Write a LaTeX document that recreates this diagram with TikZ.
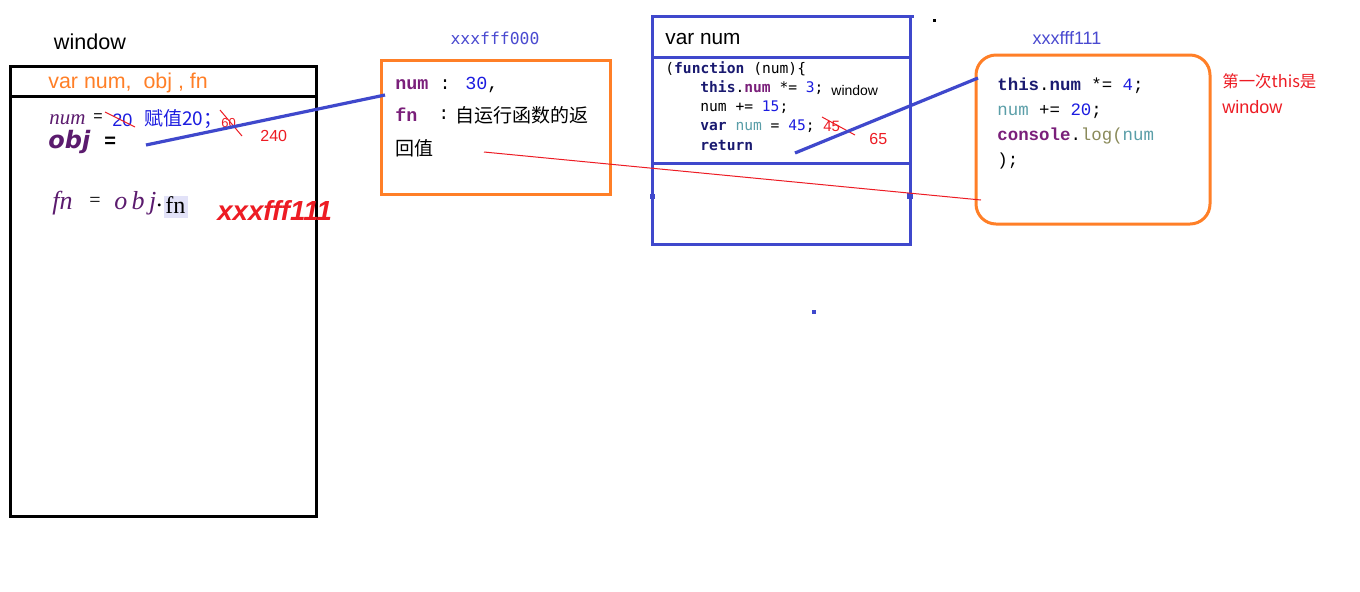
\documentclass[tikz,border=0pt]{standalone}
\usepackage{fontspec}
\setmainfont{Liberation Sans}
\newfontfamily\cjk{Noto Sans CJK SC}
\newfontfamily\lmono{Liberation Mono}
\newfontfamily\dmono{DejaVu Sans Mono}
\newfontfamily\lserif{Liberation Serif}
\newfontfamily\dvs{DejaVu Sans}
\definecolor{porange}{HTML}{FF7F27}
\definecolor{pblue}{HTML}{3F48CC}
\definecolor{pred}{HTML}{ED1C24}
\definecolor{ppurple}{HTML}{5B1B6E}
\definecolor{cnavy}{HTML}{1A1A70}
\definecolor{cpurp}{HTML}{7A1F7A}
\definecolor{cblue}{HTML}{1C1CE0}
\definecolor{cteal}{HTML}{5A9EA8}
\definecolor{colive}{HTML}{8A8A5A}
\definecolor{addr}{HTML}{4A4AD0}
\definecolor{hl}{HTML}{E2E2F8}
\tikzset{
  x=0.5pt,y=-0.5pt,
  txt/.style={inner sep=0pt,anchor=west},
  boxline/.style={line width=1.5pt},
  thinred/.style={pred,line width=0.5pt},
  thickblue/.style={pblue,line width=1.6pt},
}
\begin{document}
\begin{tikzpicture}
\useasboundingbox[fill=white] (0,0) rectangle (1360,591);
% window box
\draw[boxline,black] (10,66) rectangle (316,516);
\draw[boxline,black] (10,96) -- (316,96);
\node[txt,anchor=center,font=\fontsize{10.8}{12}\selectfont] (winlbl) at (90,42) {window};
\node[txt,text=porange,font=\fontsize{10.7}{12}\selectfont] (vars) at (48,83) {var num,\ \ obj , fn};
\node[txt,text=ppurple,font=\lserif\itshape\fontsize{10.5}{12}\selectfont] (numv) at (49,120) {num};
\node[txt,font=\fontsize{8}{10}\selectfont] (eq1) at (93,118) {=};
\node[txt,text=cblue,font=\fontsize{9}{10}\selectfont] (twenty) at (112,120) {20};
\draw[thinred] (105,112) -- (135,127);
\node[txt,text=cblue,font=\cjk\fontsize{9.5}{11}\selectfont] (fuzhi) at (144,119) {赋值20；};
\node[txt,text=pred,font=\fontsize{6.5}{8}\selectfont] (sixty) at (221,123) {60};
\draw[thinred] (220,110) -- (242,136);
\node[txt,text=pred,font=\fontsize{8}{10}\selectfont] (n240) at (260,136) {240};
\node[txt,text=ppurple,font=\dvs\bfseries\itshape\fontsize{12}{14}\selectfont] (objv) at (48,142) {obj};
\node[txt,font=\bfseries\fontsize{10}{12}\selectfont] (eq2) at (104,142) {=};
\coordinate (objend) at (146,145);
\node[txt,text=ppurple,font=\lserif\itshape\fontsize{13}{15}\selectfont] (fnv) at (52,203) {fn};
\node[txt,font=\lserif\fontsize{10}{12}\selectfont] (eq3) at (89,202) {=};
\node[txt,text=ppurple,font=\lserif\itshape\fontsize{13}{15}\selectfont] (objv2) at (114,203) {o\,b\,j};
\node[txt,font=\lserif\fontsize{12}{14}\selectfont] (dot) at (156,205) {.};
\fill[hl] (164,196) rectangle (188,218);
\node[txt,font=\lserif\fontsize{12}{14}\selectfont] (fnprop) at (165,205) {fn};
\node[txt,text=pred,font=\bfseries\itshape\fontsize{13.8}{15}\selectfont] (addr1) at (217,210) {xxxfff111};
% box 2
\node[txt,anchor=center,text=addr,font=\dmono\fontsize{8.2}{10}\selectfont] (a000) at (495,38) {xxxfff000};
\draw[boxline,porange] (381,60) rectangle (610,194);
\node[txt,font=\lmono\bfseries\fontsize{9.2}{11}\selectfont] (b2l1) at (395,85) {\textcolor{cpurp}{num} \mdseries: \textcolor{cblue}{30},};
\node[txt,text=cpurp,font=\lmono\bfseries\fontsize{9.2}{11}\selectfont] (b2l2) at (395,115) {fn};
\node[txt,font=\lmono\fontsize{9.2}{11}\selectfont] (b2col) at (438,115) {:};
\node[txt,font=\cjk\fontsize{9.5}{11}\selectfont] (b2cn) at (455,115) {自运行函数的返};
\node[txt,font=\cjk\fontsize{9.5}{11}\selectfont] (b2cn2) at (395,148) {回值};
\coordinate (retstart) at (484,152);
\coordinate (b2left) at (385,95);
% box 3
\draw[boxline,pblue] (652,16) rectangle (910,244);
\draw[boxline,pblue] (652,57) -- (910,57);
\draw[boxline,pblue] (652,163) -- (910,163);
\draw[boxline,pblue] (910,16) -- (914,16);
\fill[black] (933,19) rectangle (936,22);
\node[txt,font=\fontsize{10.4}{12}\selectfont] (varnum) at (665,39) {var num};
\node[txt,font=\dmono\fontsize{7.3}{9}\selectfont] (c1) at (665,69) {(\textcolor{cnavy}{\bfseries function} (num)\{};
\node[txt,font=\dmono\fontsize{7.3}{9}\selectfont] (c2) at (700,88) {\textcolor{cnavy}{\bfseries this}.\textcolor{cpurp}{\bfseries num} *= \textcolor{cblue}{3};};
\node[txt,font=\fontsize{7}{9}\selectfont] (cwin) at (831,90) {window};
\node[txt,font=\dmono\fontsize{7.3}{9}\selectfont] (c3) at (700,107) {num += \textcolor{cblue}{15};};
\node[txt,font=\dmono\fontsize{7.3}{9}\selectfont] (c4) at (700,126) {\textcolor{cnavy}{\bfseries var} \textcolor{cteal}{num} = \textcolor{cblue}{45};};
\node[txt,text=pred,font=\fontsize{7.5}{9}\selectfont] (c45) at (823,126) {45};
\draw[thinred] (822,117) -- (855,135);
\node[txt,text=pred,font=\fontsize{8}{10}\selectfont] (c65) at (869,139) {65};
\node[txt,font=\dmono\fontsize{7.3}{9}\selectfont] (c5) at (700,145) {\textcolor{cnavy}{\bfseries return}};
\coordinate (retend) at (795,153);
\fill[pblue] (650,194) rectangle (655,199);
\fill[pblue] (907,193) rectangle (913,199);
\fill[pblue] (812,310) rectangle (816,314);
% box 4
\node[txt,anchor=center,text=addr,font=\fontsize{9}{10}\selectfont] (a111) at (1067,38) {xxxfff111};
\draw[boxline,porange,rounded corners=10pt] (976,55) rectangle (1210,224);
\node[txt,font=\lmono\fontsize{8.7}{11}\selectfont] (d1) at (997,86) {\textcolor{cnavy}{\bfseries this}.\textcolor{cnavy}{\bfseries num} *= \textcolor{cblue}{4};};
\node[txt,font=\lmono\fontsize{8.7}{11}\selectfont] (d2) at (997,111) {\textcolor{cteal}{num} += \textcolor{cblue}{20};};
\node[txt,font=\lmono\fontsize{8.7}{11}\selectfont] (d3) at (997,136) {\textcolor{cpurp}{\bfseries console}.\textcolor{colive}{log(}\textcolor{cteal}{num}};
\node[txt,font=\lmono\fontsize{8.7}{11}\selectfont] (d4) at (997,161) {);};
\coordinate (b4top) at (978,78);
\coordinate (b4low) at (981,200);
\node[txt,text=pred,font=\cjk\fontsize{8.2}{10}\selectfont] (first) at (1222,81) {第一次this是};
\node[txt,text=pred,font=\fontsize{9}{11}\selectfont] (firstw) at (1222,107) {window};
% connectors
\draw[thickblue] (objend) -- (b2left);
\draw[thickblue] (retend) -- (b4top);
\draw[thinred] (retstart) -- (b4low);
\end{tikzpicture}
\end{document}
